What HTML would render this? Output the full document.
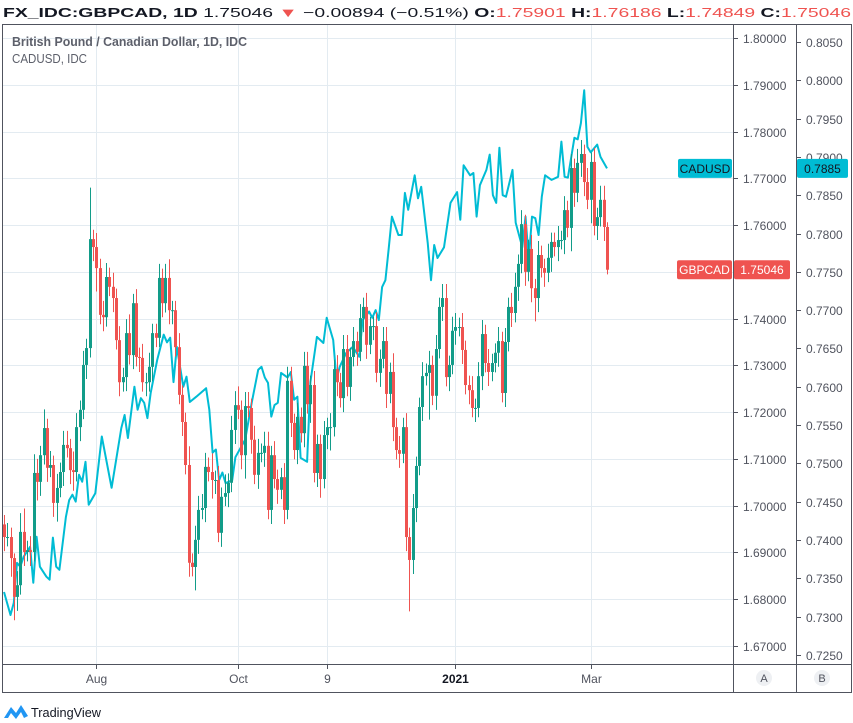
<!DOCTYPE html>
<html><head><meta charset="utf-8">
<style>
html,body{margin:0;padding:0;background:#fff;}
svg{display:block;font-family:"Liberation Sans",sans-serif;}
</style></head>
<body>
<svg id="chart" width="853" height="723" viewBox="0 0 853 723" xmlns="http://www.w3.org/2000/svg">
  <rect x="0" y="0" width="853" height="723" fill="#fff"/>
  <text x="3" y="17" font-size="13" font-weight="bold" fill="#131722" textLength="848" lengthAdjust="spacingAndGlyphs">FX_IDC:GBPCAD, 1D <tspan font-weight="normal">1.75046</tspan> <tspan fill="#ef5350">▼</tspan> <tspan font-weight="normal">−0.00894 (−0.51%)</tspan> O:<tspan fill="#ef5350" font-weight="normal">1.75901</tspan> H:<tspan fill="#ef5350" font-weight="normal">1.76186</tspan> L:<tspan fill="#ef5350" font-weight="normal">1.74849</tspan> C:<tspan fill="#ef5350" font-weight="normal">1.75046</tspan></text>
  <g id="grid"></g>
  <g id="cad"></g>
  <g id="candles"></g>
  <rect x="2.5" y="24.5" width="849" height="668" fill="none" stroke="#50535e" stroke-width="1"/>
  <line x1="733.5" y1="25" x2="733.5" y2="693" stroke="#50535e"/>
  <line x1="796.5" y1="25" x2="796.5" y2="693" stroke="#50535e"/>
  <line x1="3" y1="664.5" x2="852" y2="664.5" stroke="#50535e"/>
  <g id="axes"></g>
  <text x="12" y="46" font-size="13" font-weight="bold" fill="#5d606b" textLength="235" lengthAdjust="spacingAndGlyphs">British Pound / Canadian Dollar, 1D, IDC</text>
  <text x="12" y="63" font-size="13" fill="#5d606b" textLength="75" lengthAdjust="spacingAndGlyphs">CADUSD, IDC</text>
  <g>
    <path d="M4 718 L11 707 L16 713 L21 705 L28 716 L24 718 L21 712 L16 719 L11 713 L8 718 Z" fill="#2196f3"/>
    <text x="31" y="717" font-size="13" fill="#131722" textLength="70" lengthAdjust="spacingAndGlyphs">TradingView</text>
  </g>
</svg>
<script>
const closes = [
1.6933,1.6933,1.6888,1.6805,1.6830,1.6944,1.6901,1.6905,1.6901,1.7070,
1.7051,1.7108,1.7166,1.7081,1.7087,1.7006,1.7038,1.7072,1.7130,1.7123,
1.7076,1.7072,1.7168,1.7205,1.7301,1.7337,1.7570,1.7553,1.7508,1.7408,
1.7403,1.7489,1.7468,1.7444,1.7354,1.7264,1.7275,1.7369,1.7322,1.7433,
1.7318,1.7316,1.7264,1.7264,1.7297,1.7369,1.7359,1.7487,1.7433,1.7487,
1.7418,1.7418,1.7339,1.7237,1.7179,1.7087,1.6878,1.6869,1.6927,1.6991,
1.6995,1.7083,1.7072,1.7055,1.7055,1.6942,1.7019,1.7027,1.7049,1.7162,
1.7215,1.7205,1.7108,1.7213,1.7209,1.7141,1.7066,1.7113,1.7113,1.7128,
1.6991,1.7108,1.7057,1.7034,1.7061,1.6991,1.7267,1.7177,1.7119,1.7190,
1.7155,1.7299,1.7217,1.7258,1.7070,1.7132,1.7057,1.7151,1.7168,1.7168,
1.7292,1.7264,1.7230,1.7335,1.7254,1.7318,1.7352,1.7329,1.7401,1.7425,
1.7344,1.7384,1.7384,1.7284,1.7314,1.7352,1.7239,1.7286,1.7168,1.7119,
1.7111,
1.7168,1.6933,1.6884,1.6995,1.7085,1.7211,1.7277,1.7284,1.7301,1.7235,
1.7335,1.7425,1.7444,1.7275,1.7301,1.7374,1.7382,1.7382,1.7333,1.7258,
1.7247,1.7209,1.7209,1.7277,1.7367,1.7305,1.7286,1.7305,1.7327,1.7352,
1.7241,1.7350,1.7425,1.7412,1.7468,1.7517,1.7602,1.7500,1.7549,1.7465,
1.7444,1.7536,1.7508,1.7498,1.7530,1.7564,1.7553,1.7568,1.7568,1.7632,
1.7594,1.7722,1.7669,1.7733,1.7752,1.7692,1.7654,1.7735,1.7598,1.7617,
1.7654,1.7596,1.75046
];
const firstOpen = 1.6960;
const upWick = [
2,3,2,1,3,4,5,2,3,4, 3,2,4,2,3,2,3,2,3,3, 2,4,3,2,3,2,11,2,3,2, 3,3,2,3,2,3,2,3,4,2, 3,2,3,2,3,2,2,3,2,3, 4,2,2,3,2,2,4,2,3,3,
3,3,2,4,2,3,2,4,2,3, 3,4,2,3,3,2,3,3,2,3, 3,2,3,2,2,3,3,3,2,3, 2,3,3,2,3,2,2,3,2,3, 2,3,2,3,3,2,3,2,3,2, 3,2,2,3,2,3,3,2,4,2, 3,
2,3,2,3,2,2,3,2,3,2, 3,2,3,3,2,3,3,2,3,2, 2,3,2,3,3,2,3,2,2,3, 2,3,2,3,3,2,3,2,2,3, 2,3,2,2,3,2,2,3,2,3, 2,3,2,3,3,2,3,2,3,2, 3,3,1
];
const downWick = [
3,2,4,5,3,2,3,2,3,2, 4,3,2,3,2,3,4,2,3,2, 3,4,2,3,2,3,2,3,5,2, 3,2,2,3,2,3,2,3,2,3, 2,3,2,3,2,3,2,2,3,2, 3,3,2,2,3,2,3,2,5,3,
2,3,2,4,3,2,3,2,3,2, 3,2,3,5,2,3,2,3,2,3, 2,3,2,3,2,3,2,3,2,3, 2,3,2,4,2,3,4,2,3,5, 2,3,2,3,2,3,2,3,2,3, 3,2,3,2,3,2,3,2,3,2, 3,
2,3,11,3,3,2,3,2,10,2, 3,2,3,2,3,2,3,2,3,2, 3,2,3,2,3,2,3,2,2,3, 2,3,2,3,2,3,2,3,2,3, 5,3,2,3,2,3,2,3,2,3, 2,5,3,2,3,3,2,5,2,3, 2,3,1
];
const cadIdx = [0,2,3,4,5,6,8,9,10,11,13,14,15,16,17,19,20,21,22,23,24,25,26,28,30,33,36,37,38,40,41,42,43,44,45,47,49,50,51,52,53,55,56,57,59,62,63,64,65,66,67,68,70,71,74,76,78,79,80,81,82,83,84,85,87,88,89,90,91,93,94,96,98,99,101,102,103,105,107,109,110,112,113,114,115,116,117,118,119,121,122,123,124,126,127,128,130,131,132,133,135,137,139,140,141,143,144,145,146,148,149,150,151,152,153,154,156,157,159,160,161,162,163,164,165,166,168,170,171,172,173,175,176,177,178,179,180,182,183,185];
const cadVals = [0.7332,0.7302,0.7318,0.7370,0.7365,0.7378,0.7391,0.7344,0.7404,0.7365,0.7352,0.7348,0.7403,0.7365,0.7361,0.7430,0.7452,0.7459,0.7450,0.7485,0.7476,0.7502,0.7446,0.7461,0.7535,0.7468,0.7546,0.7563,0.7533,0.7600,0.7570,0.7585,0.7579,0.7559,0.7592,0.7635,0.7668,0.7658,0.7664,0.7606,0.7652,0.7600,0.7613,0.7580,0.7587,0.7598,0.7570,0.7514,0.7518,0.7478,0.7488,0.7474,0.7478,0.7508,0.7531,0.7579,0.7622,0.7626,0.7612,0.7605,0.7561,0.7576,0.7579,0.7618,0.7612,0.7619,0.7583,0.7587,0.7507,0.7502,0.7606,0.7665,0.7657,0.7690,0.7661,0.7609,0.7626,0.7644,0.7652,0.7639,0.7687,0.7698,0.7690,0.7700,0.7687,0.7730,0.7739,0.7779,0.7822,0.7798,0.7798,0.7853,0.7831,0.7876,0.7846,0.7861,0.7788,0.7739,0.7785,0.7768,0.7782,0.7840,0.7854,0.7818,0.7889,0.7876,0.7879,0.7822,0.7863,0.7883,0.7903,0.7850,0.7840,0.7912,0.7850,0.7848,0.7883,0.7814,0.7782,0.7822,0.7766,0.7822,0.7820,0.7798,0.7848,0.7876,0.7870,0.7874,0.7920,0.7874,0.7873,0.7925,0.7923,0.7944,0.7987,0.7913,0.7906,0.7916,0.7900,0.7885];
const ticksA = ["1.80000","1.79000","1.78000","1.77000","1.76000","1.75000","1.74000","1.73000","1.72000","1.71000","1.70000","1.69000","1.68000","1.67000"];
const ticksB = ["0.8050","0.8000","0.7950","0.7900","0.7850","0.7800","0.7750","0.7700","0.7650","0.7600","0.7550","0.7500","0.7450","0.7400","0.7350","0.7300","0.7250"];
const timeLabels = ["Aug","Oct","9","2021","Mar"];
const timeBars = [28,71,98,137,178];

const NS = "http://www.w3.org/2000/svg";
const nBars = closes.length;
function yA(p){ return 38 + (1.80 - p) * 4677; }
function yB(v){ return 42 + (0.805 - v) * 7660; }
function xBar(i){ return 4 + i * (603 / (nBars - 1)); }
function xCad(i){ return 4 + i * (603 / 185); }
function mk(tag, attrs, parent){
  const e = document.createElementNS(NS, tag);
  for (const k in attrs) e.setAttribute(k, attrs[k]);
  parent.appendChild(e);
  return e;
}
const grid = document.getElementById('grid');
const axes = document.getElementById('axes');
ticksA.forEach(t => {
  const y = Math.round(yA(parseFloat(t))) + 0.5;
  const g = mk('line', {x1:3, y1:y, x2:733, y2:y, stroke:'#e3ebf1', 'stroke-width':1}, grid);
  
  
  const tk = mk('line', {x1:733, y1:y, x2:738, y2:y, stroke:'#50535e'}, axes);
  
  
  const tx = mk('text', {x:743, y:y+4.5, 'font-size':12, fill:'#50535e'}, axes);
  tx.textContent = t;
  
  
});
ticksB.forEach(t => {
  const y = Math.round(yB(parseFloat(t))) + 0.5;
  const tk = mk('line', {x1:796, y1:y, x2:801, y2:y, stroke:'#50535e'}, axes);
  
  
  const tx = mk('text', {x:806, y:y+4.5, 'font-size':12, fill:'#50535e'}, axes);
  tx.textContent = t;
  
  
});
timeLabels.forEach((t, k) => {
  const x = Math.round(xBar(timeBars[k])) + 0.5;
  const g = mk('line', {x1:x, y1:25, x2:x, y2:664, stroke:'#e3ebf1'}, grid);
  
  
  const tk = mk('line', {x1:x, y1:665, x2:x, y2:669, stroke:'#50535e'}, axes);
  
  
  const tx = mk('text', {x:x, y:683, 'font-size':12, fill: t === '2021' ? '#131722' : '#50535e', 'text-anchor':'middle', 'font-weight': t === '2021' ? 'bold' : 'normal'}, axes);
  tx.textContent = t;
  
  
});
[["A",764],["B",822]].forEach(([l,x]) => {
  const c = mk('circle', {cx:x, cy:678, r:8, fill:'#eef0f3'}, axes);
  
  
  const t = mk('text', {x:x, y:682, 'font-size':11, fill:'#50535e', 'text-anchor':'middle'}, axes);
  t.textContent = l;
  
  
});
const cadG = document.getElementById('cad');
let d = '';
cadIdx.forEach((i, k) => { d += (k ? 'L' : 'M') + xCad(i).toFixed(1) + ' ' + yB(cadVals[k]).toFixed(1); });
const cl = mk('path', {d:d, fill:'none', stroke:'#00bcd4', 'stroke-width':2, 'stroke-linejoin':'round'}, cadG);


const cg = document.getElementById('candles');
const nW = Math.min(nBars, upWick.length, downWick.length);
for (let i = 0; i < nBars; i++) {
  const o = i === 0 ? firstOpen : closes[i-1];
  const c = closes[i];
  const up = c >= o;
  const col = up ? '#129c89' : '#ef5350';
  const hi = Math.max(o, c) + (i < nW ? upWick[i] : 2) * 0.001;
  const lo = Math.min(o, c) - (i < nW ? downWick[i] : 2) * 0.001;
  const x = xBar(i);
  const xc = Math.round(x) + 0.5;
  const w = mk('line', {x1:xc, y1:yA(hi), x2:xc, y2:yA(lo), stroke:col, 'stroke-width':1}, cg);
  
  
  const yt = yA(Math.max(o, c)), yb = yA(Math.min(o, c));
  const b = mk('rect', {x:Math.round(x) - 1, y:yt, width:3, height:Math.max(1, yb - yt), fill:col}, cg);
  
  
}
const lastG = closes[nBars - 1];
const lastC = cadVals[cadVals.length - 1];
function tag(x, y, w, txt, bg, fg, name){
  const r = mk('rect', {x:x, y:y - 9.5, width:w, height:19, rx:2, fill:bg}, axes);
  
  
  const t = mk('text', {x:x + w/2, y:y + 4.5, 'font-size':12, fill:fg, 'text-anchor':'middle'}, axes);
  t.textContent = txt;
  
  
}
tag(678, yB(lastC), 54, 'CADUSD', '#00bcd4', '#131722', 'cadusd-series-tag');
tag(797, yB(lastC), 51, lastC.toFixed(4), '#00bcd4', '#131722', 'cadusd-price-tag');
tag(677, yA(lastG), 55, 'GBPCAD', '#ef5350', '#fff', 'gbpcad-series-tag');
tag(734, yA(lastG), 56, lastG.toFixed(5), '#ef5350', '#fff', 'gbpcad-price-tag');
</script>
</body></html>
